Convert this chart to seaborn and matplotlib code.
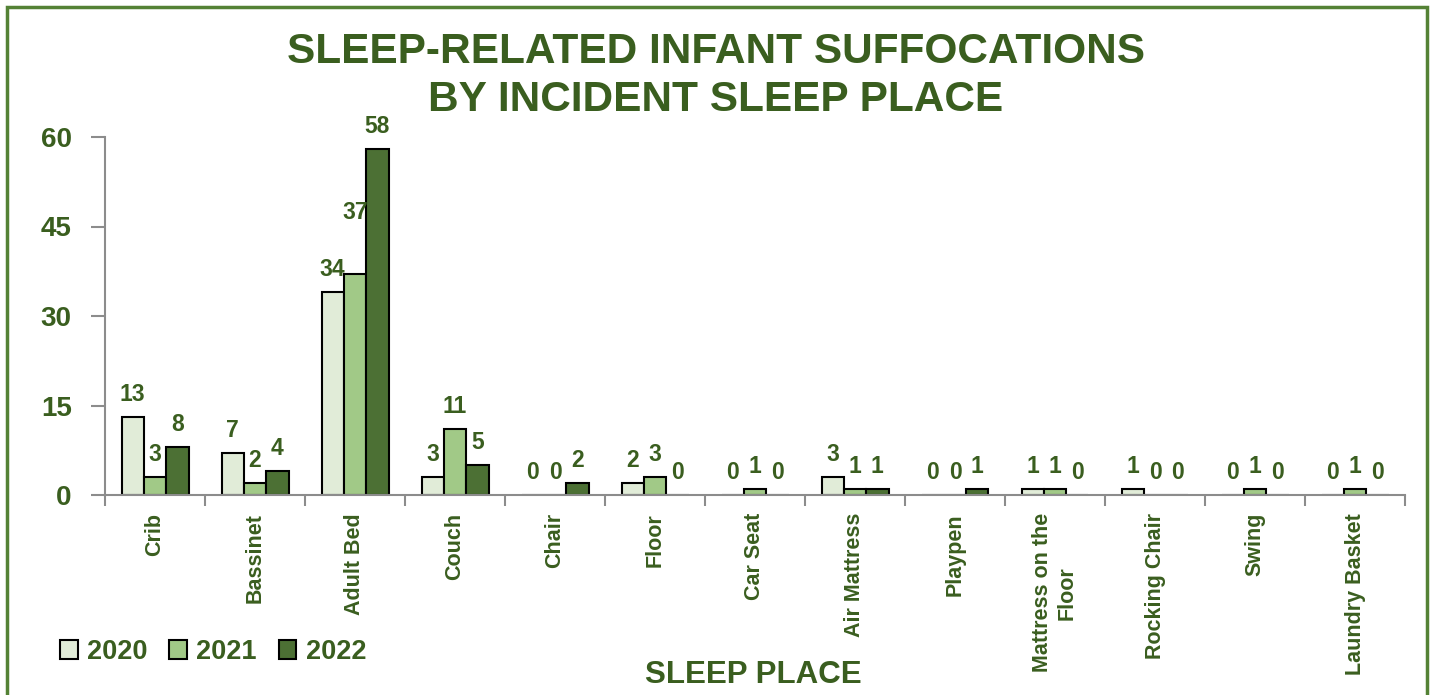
import matplotlib
matplotlib.use("Agg")
import matplotlib.pyplot as plt
import seaborn as sns
import pandas as pd
from matplotlib.patches import Rectangle

places = ["Crib", "Bassinet", "Adult Bed", "Couch", "Chair", "Floor", "Car Seat",
          "Air Mattress", "Playpen", "Mattress on the\nFloor", "Rocking Chair",
          "Swing", "Laundry Basket"]
years = ["2020", "2021", "2022"]
v2020 = [13, 7, 34, 3, 0, 2, 0, 3, 0, 1, 1, 0, 0]
v2021 = [3, 2, 37, 11, 0, 3, 1, 1, 0, 1, 0, 1, 1]
v2022 = [8, 4, 58, 5, 2, 0, 0, 1, 1, 0, 0, 0, 0]
yticks = [0, 15, 30, 45, 60]
title_lines = ["SLEEP-RELATED INFANT SUFFOCATIONS", "BY INCIDENT SLEEP PLACE"]

colors = ["#E0F0D4", "#9FD47C", "#4A7A2A"]
dark = "#3A5E1F"
axis_gray = "#8C8C8C"
font = ["Liberation Sans", "DejaVu Sans"]

df = pd.DataFrame({
    "place": places * 3,
    "year": [y for y in years for _ in places],
    "count": v2020 + v2021 + v2022,
})

sns.set_style("white")
plt.rcParams["font.family"] = font

fig = plt.figure(figsize=(14.32, 6.95), dpi=100)
ax = fig.add_axes([105 / 1432, 1 - 495 / 695, 1300 / 1432, 358 / 695])

sns.barplot(data=df, x="place", y="count", hue="year", palette=colors,
            width=0.67, edgecolor="black", linewidth=1.5, ax=ax)

for k, cont in enumerate(ax.containers):
    texts = ax.bar_label(cont, fmt="%d", padding=8, color=dark, fontsize=16.5,
                         fontweight="bold")
    # the 2021 adult-bed label sits higher, clear of the taller 2022 bar
    if k == 1:
        texts[2].xyann = (texts[2].xyann[0], 36)

ax.set_ylim(0, 60)
ax.set_xlim(-0.5, len(places) - 0.5)
ax.set_yticks(yticks)
ax.set_yticklabels([str(t) for t in yticks], color=dark, fontsize=20,
                   fontweight="bold")
ax.tick_params(axis="y", length=10, width=1.5, color=axis_gray, pad=14, left=True)

ax.set_xticks(range(len(places)))
ax.set_xticklabels(places, rotation=90, color=dark, fontsize=15.5, fontweight="bold",
                   va="top", ha="center", multialignment="center")
ax.tick_params(axis="x", which="major", length=0, pad=13)
ax.set_xticks([i - 0.5 for i in range(len(places) + 1)], minor=True)
ax.tick_params(axis="x", which="minor", length=8, width=1.5, color=axis_gray,
               bottom=True)

for s in ["top", "right"]:
    ax.spines[s].set_visible(False)
for s in ["left", "bottom"]:
    ax.spines[s].set_color(axis_gray)
    ax.spines[s].set_linewidth(1.5)
ax.set_xlabel("")
ax.set_ylabel("")

handles, labels = ax.get_legend_handles_labels()
ax.get_legend().remove()
fig.legend(handles, labels, loc="center left", bbox_to_anchor=(60 / 1432, 1 - 652 / 695),
           ncol=3, frameon=False, handlelength=0.65, handleheight=0.65,
           handletextpad=0.35, columnspacing=0.8, borderpad=0, borderaxespad=0,
           prop={"weight": "bold", "size": 19.5}, labelcolor=dark)

for i, line in enumerate(title_lines):
    fig.text(716 / 1432, 1 - (52 + 48 * i) / 695, line, ha="center", va="center",
             fontsize=30.5, fontweight="bold", color=dark)
fig.text(753 / 1432, 1 - 675 / 695, "SLEEP PLACE", ha="center", va="center",
         fontsize=22.5, fontweight="bold", color=dark)

fig.patches.append(Rectangle((7.5 / 1432, -0.05), 1419 / 1432, 1.05 - 7.5 / 695,
                             transform=fig.transFigure, fill=False,
                             edgecolor="#548235", linewidth=2.5))

fig.savefig("out.png", dpi=100)
